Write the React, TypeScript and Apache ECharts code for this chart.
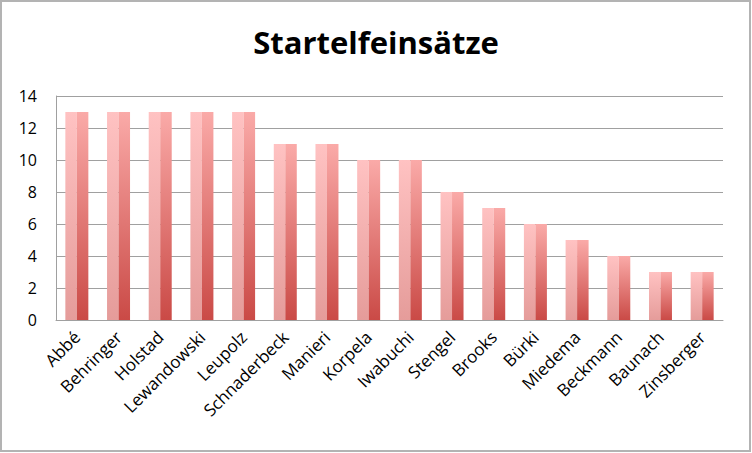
import React, { useEffect, useRef } from "react";
import * as echarts from "echarts";

const categories = [
  "Abbé", "Behringer", "Holstad", "Lewandowski", "Leupolz", "Schnaderbeck",
  "Manieri", "Korpela", "Iwabuchi", "Stengel", "Brooks", "Bürki",
  "Miedema", "Beckmann", "Baunach", "Zinsberger",
];
const values = [13, 13, 13, 13, 13, 11, 11, 10, 10, 8, 7, 6, 5, 4, 3, 3];
const yTicks = { min: 0, max: 14, interval: 2 };
const title = "Startelfeinsätze";

export default function App() {
  const ref = useRef<HTMLDivElement>(null);
  useEffect(() => {
    if (!ref.current) return;
    const chart = echarts.init(ref.current, undefined, { renderer: "svg" });
    const font = "'Open Sans', Lato, sans-serif";
    const leftGrad = new echarts.graphic.LinearGradient(0, 0, 0, 1, [
      { offset: 0, color: "#ffc2c2" },
      { offset: 1, color: "#e59c9a" },
    ]);
    const rightGrad = new echarts.graphic.LinearGradient(0, 0, 0, 1, [
      { offset: 0, color: "#faaaa8" },
      { offset: 1, color: "#ca4a46" },
    ]);
    chart.setOption({
      animation: false,
      backgroundColor: "#ffffff",
      title: {
        text: title,
        left: "center",
        top: 21,
        textStyle: { fontFamily: font, fontWeight: "bold", fontSize: 31, color: "#000" },
      },
      grid: { left: 56, right: 29, top: 96, bottom: 133, containLabel: false },
      xAxis: {
        type: "category",
        data: categories,
        axisLine: { show: true, lineStyle: { color: "#a0a0a0", width: 1 } },
        axisTick: { show: false },
        axisLabel: {
          interval: 0,
          rotate: 45,
          margin: 14,
          fontFamily: font,
          fontSize: 17,
          color: "#000",
        },
      },
      yAxis: {
        type: "value",
        min: yTicks.min,
        max: yTicks.max,
        interval: yTicks.interval,
        axisLine: { show: true, lineStyle: { color: "#a0a0a0", width: 1 } },
        axisTick: { show: false },
        splitLine: { show: true, lineStyle: { color: "#a0a0a0", width: 1 } },
        axisLabel: { fontFamily: font, fontSize: 16, color: "#000", margin: 19 },
      },
      series: [
        {
          type: "bar",
          data: values,
          barWidth: 11.5,
          barGap: "0%",
          itemStyle: { color: leftGrad },
        },
        {
          type: "bar",
          data: values,
          barWidth: 11.5,
          barGap: "0%",
          itemStyle: { color: rightGrad },
        },
      ],
      graphic: [
        {
          type: "rect",
          shape: { x: 1, y: 1, width: 749, height: 450 },
          style: { fill: "none", stroke: "#b3b3b3", lineWidth: 2 },
          silent: true,
        },
      ],
    });
    return () => chart.dispose();
  }, []);
  return (
    <div
      ref={ref}
      style={{ position: "fixed", left: 0, top: 0, width: 752, height: 453 }}
    />
  );
}
